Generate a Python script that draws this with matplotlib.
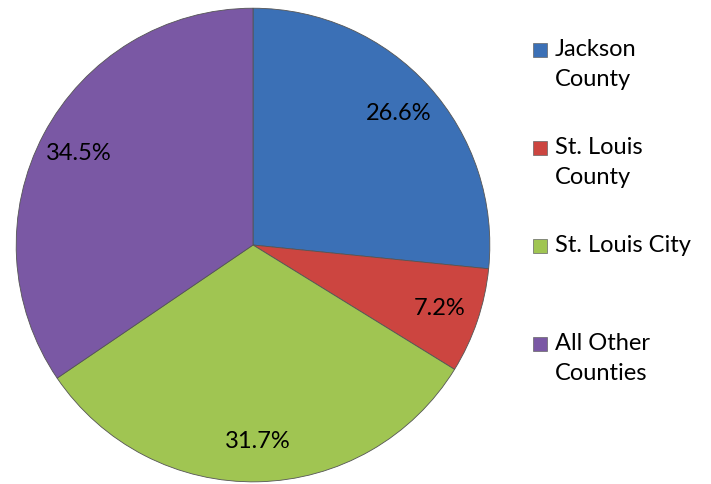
import matplotlib
matplotlib.use("Agg")
import matplotlib.pyplot as plt
from matplotlib.patches import Rectangle

# Data
labels = ["Jackson\nCounty", "St. Louis\nCounty", "St. Louis City", "All Other\nCounties"]
shares = [26.6, 7.2, 31.7, 34.5]
colors = ["#3b70b6", "#cc4540", "#a0c552", "#7a58a4"]

plt.rcParams["font.family"] = ["Lato", "DejaVu Sans"]

fig = plt.figure(figsize=(7.11, 4.84), dpi=100)
ax = fig.add_axes([0.0211, 0.002, 0.6695, 0.9835])

wedges, texts, autotexts = ax.pie(
    shares,
    colors=colors,
    startangle=90,
    counterclock=False,
    autopct="%.1f%%",
    pctdistance=0.83,
    wedgeprops=dict(edgecolor="#555555", linewidth=0.6),
    textprops=dict(fontsize=17, color="black"),
)
ax.set_aspect("equal")
ax.set_xlim(-1.005, 1.005)
ax.set_ylim(-1.005, 1.005)

# Legend drawn by hand to keep Excel-style spacing
for i, (lab, col) in enumerate(zip(labels, colors)):
    y = 1 - (50 + 98 * i) / 484
    fig.patches.append(Rectangle((533 / 711, y - 7 / 484), 14 / 711, 14 / 484,
                                 transform=fig.transFigure, facecolor=col,
                                 edgecolor="#666666", linewidth=0.5))
    fig.text(555 / 711, y + 11 / 484, lab, fontsize=17, va="top", ha="left",
             linespacing=1.55)

fig.savefig("out.png", dpi=100)
